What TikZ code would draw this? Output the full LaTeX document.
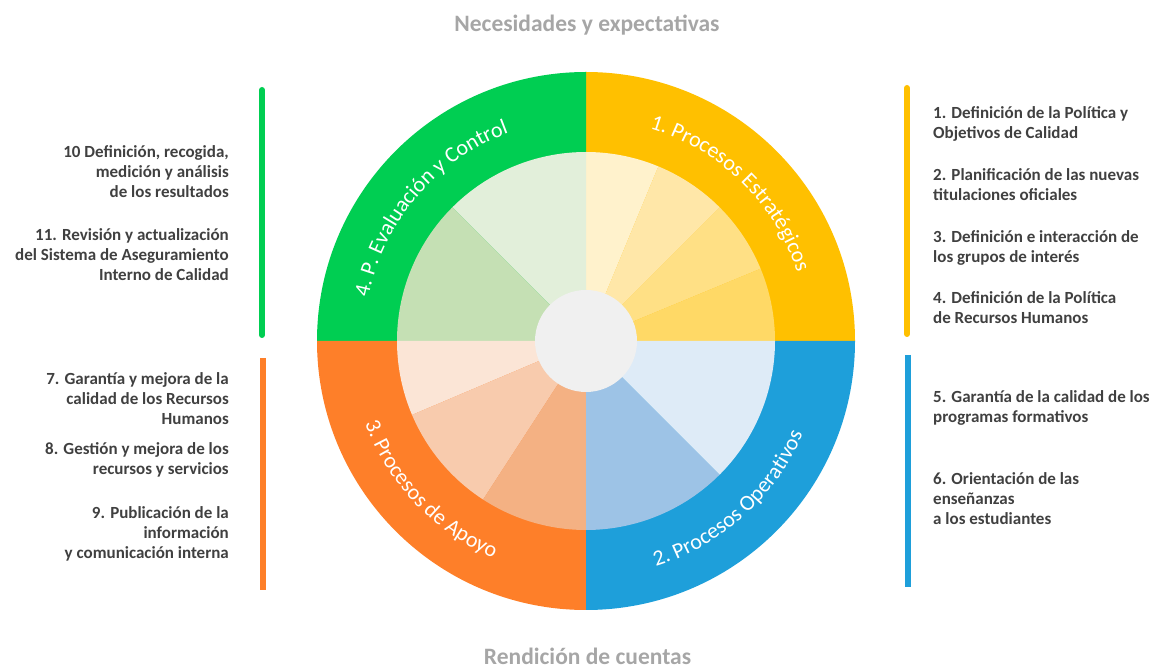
\documentclass[tikz,border=0pt]{standalone}
\usepackage{fontspec}
\setmainfont{Carlito}
\newfontfamily\ringfont{Carlito}
\usetikzlibrary{decorations.text}
\definecolor{ringY}{HTML}{FFC000}
\definecolor{sYa}{HTML}{FFF2CC}
\definecolor{sYb}{HTML}{FFE7A8}
\definecolor{sYc}{HTML}{FFE085}
\definecolor{sYd}{HTML}{FFD966}
\definecolor{ringG}{HTML}{00CE52}
\definecolor{sGa}{HTML}{E2EFDA}
\definecolor{sGb}{HTML}{C5E0B4}
\definecolor{ringO}{HTML}{FE7F29}
\definecolor{sOa}{HTML}{FBE5D6}
\definecolor{sOb}{HTML}{F8CBAD}
\definecolor{sOc}{HTML}{F4B183}
\definecolor{ringB}{HTML}{1E9FDA}
\definecolor{sBa}{HTML}{9DC3E6}
\definecolor{sBb}{HTML}{DEEBF7}
\definecolor{hubgray}{HTML}{F0F0F0}
\definecolor{txtgray}{HTML}{404040}
\definecolor{titlegray}{HTML}{A6A6A6}
\newcommand\mywedge[4]{\fill[#1] (C) -- ([shift={(#2:#4)}]C) arc[start angle=#2,end angle=#3,radius=#4] -- cycle;}
\newcommand\firstln{\rule{0pt}{14pt}}
\begin{document}
\begin{tikzpicture}[x=1pt,y=1pt,
  sidetext/.style={font=\bfseries\fontsize{17}{20}\selectfont, text=txtgray, inner sep=0pt},
  lefttext/.style={sidetext, anchor=north east, align=right},
  righttext/.style={sidetext, anchor=north west, align=left},
  titletext/.style={font=\bfseries\fontsize{23.5}{26}\selectfont, text=titlegray, inner sep=0pt, text depth=0pt, anchor=base},
  bar/.style={line width=6pt},
  ringlabel/.style={decorate, decoration={text along path, text align=center, text color=white, text={|\ringfont\fontsize{22}{22}\selectfont|#1}}}
]
\useasboundingbox (0,0) rectangle (1152,667);
\coordinate (C) at (586,326);
% outer ring quadrants
\mywedge{ringY}{0}{90}{269}
\mywedge{ringG}{90}{180}{269}
\mywedge{ringO}{180}{270}{269}
\mywedge{ringB}{270}{360}{269}
% inner slices
\mywedge{sYa}{67.5}{90}{189}
\mywedge{sYb}{45}{67.5}{189}
\mywedge{sYc}{22.5}{45}{189}
\mywedge{sYd}{0}{22.5}{189}
\mywedge{sGa}{90}{135}{189}
\mywedge{sGb}{135}{180}{189}
\mywedge{sOa}{180}{203}{189}
\mywedge{sOb}{203}{237}{189}
\mywedge{sOc}{237}{270}{189}
\mywedge{sBa}{270}{315}{189}
\mywedge{sBb}{315}{360}{189}
% hub
\node[circle, fill=hubgray, minimum size=102pt, inner sep=0pt] (hub) at (C) {};
% ring labels
\path[ringlabel={1. Procesos Estratégicos}] ([shift={(80.7:222)}]C) arc[start angle=80.7,end angle=10.7,radius=222];
\path[ringlabel={4. P. Evaluación y Control}] ([shift={(174.5:222)}]C) arc[start angle=174.5,end angle=104.5,radius=222];
\path[ringlabel={3. Procesos de Apoyo}] ([shift={(188.7:236)}]C) arc[start angle=188.7,end angle=258.7,radius=236];
\path[ringlabel={2. Procesos Operativos}] ([shift={(277:236)}]C) arc[start angle=277,end angle=347,radius=236];
% titles
\node[titletext] (top) at (587,635) {Necesidades y expectativas};
\node[titletext] (bottom) at (587.5,2.5) {Rendición de cuentas};
% bars
\coordinate (gA) at (262,577); \coordinate (gB) at (262,332);
\coordinate (oA) at (263,309); \coordinate (oB) at (263,77);
\coordinate (yA) at (907,579); \coordinate (yB) at (907,333);
\coordinate (bA) at (908,312); \coordinate (bB) at (908,80);
\draw[bar, ringG, line cap=round] (gA) -- (gB);
\draw[bar, ringO] (oA) -- (oB);
\draw[bar, ringY, line cap=round] (yA) -- (yB);
\draw[bar, ringB] (bA) -- (bB);
% left texts
\node[lefttext] (t10) at (229,524) {\firstln 10 Definición, recogida,\\ medición y análisis\\ de los resultados};
\node[lefttext] (t11) at (229,441) {\firstln 11. Revisión y actualización\\ del Sistema de Aseguramiento\\ Interno de Calidad};
\node[lefttext] (t7) at (229,297) {\firstln 7. Garantía y mejora de la\\ calidad de los Recursos\\ Humanos};
\node[lefttext] (t8) at (229,227) {\firstln 8. Gestión y mejora de los\\ recursos y servicios};
\node[lefttext] (t9) at (229,163) {\firstln 9. Publicación de la\\ información\\ y comunicación interna};
% right texts
\node[righttext] (t1) at (933,563) {\firstln 1. Definición de la Política y\\ Objetivos de Calidad};
\node[righttext] (t2) at (933,501) {\firstln 2. Planificación de las nuevas\\ titulaciones oficiales};
\node[righttext] (t3) at (933,439) {\firstln 3. Definición e interacción de\\ los grupos de interés};
\node[righttext] (t4) at (933,378) {\firstln 4. Definición de la Política\\ de Recursos Humanos};
\node[righttext] (t5) at (933,279) {\firstln 5. Garantía de la calidad de los\\ programas formativos};
\node[righttext] (t6) at (933,197) {\firstln 6. Orientación de las\\ enseñanzas\\ a los estudiantes};
\end{tikzpicture}
\end{document}
